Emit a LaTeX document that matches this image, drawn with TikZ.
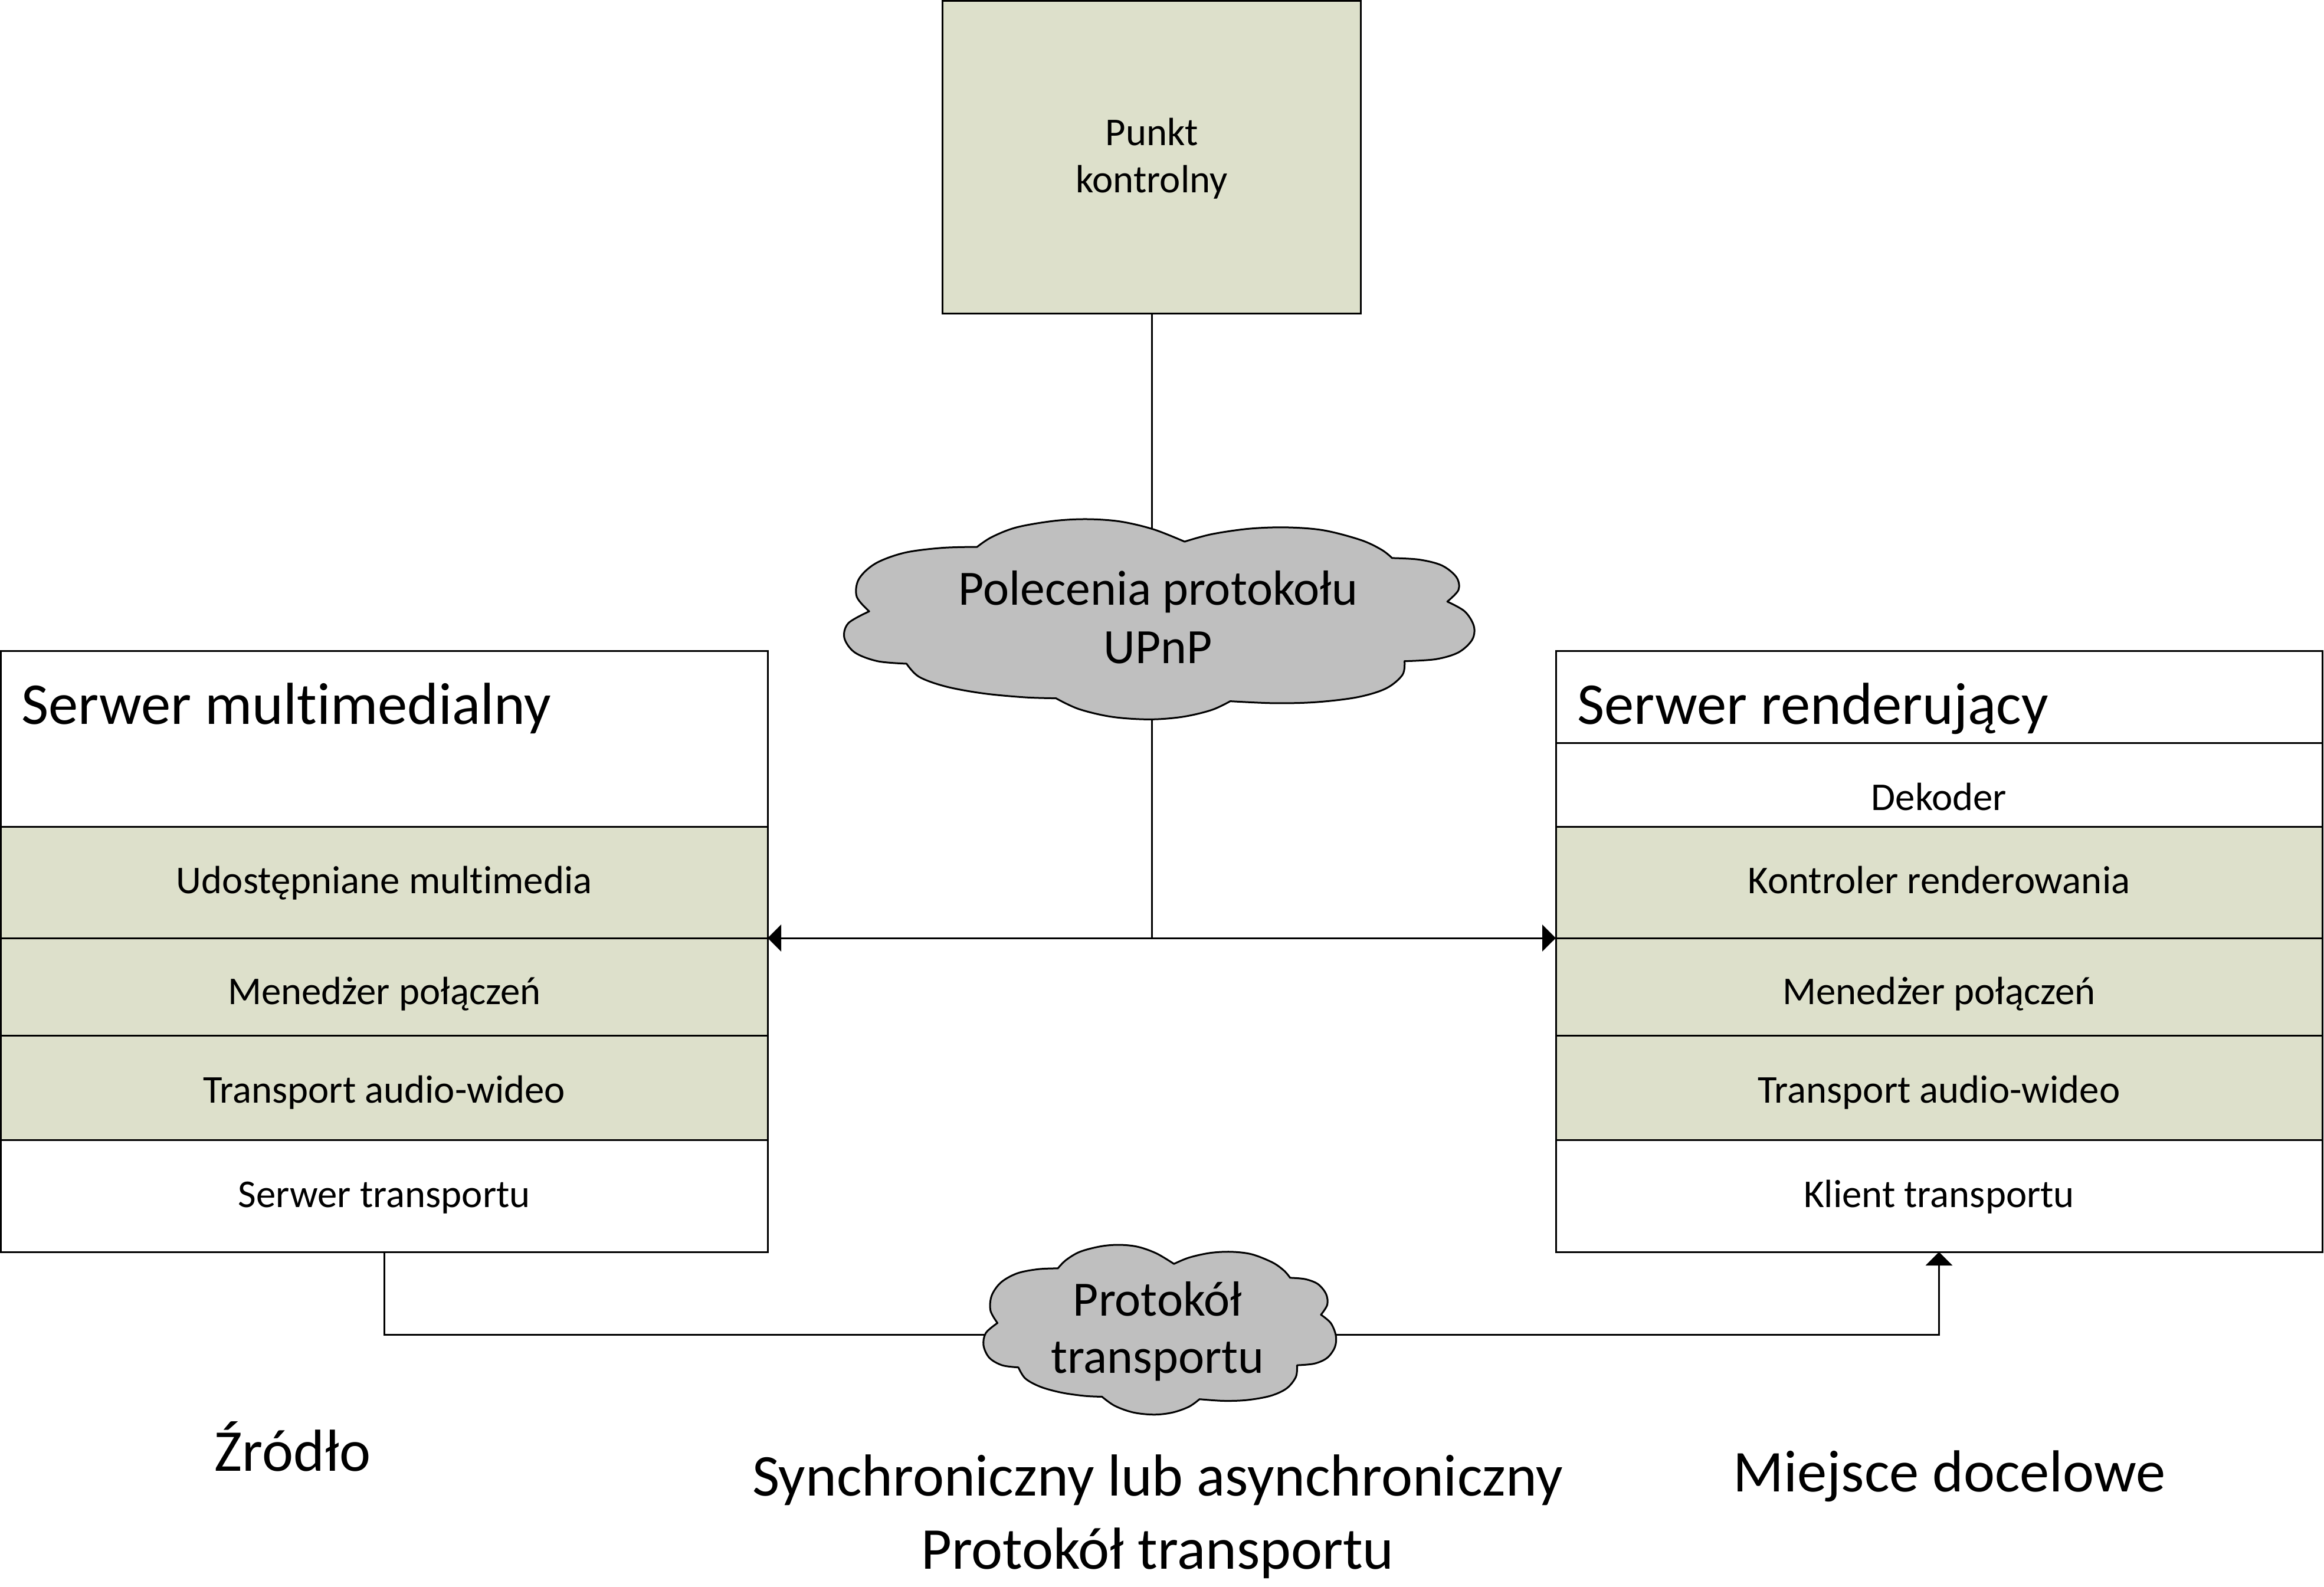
\documentclass[tikz,border=0pt]{standalone}
\usepackage{fontspec}
\setmainfont{Carlito}[Ligatures={NoCommon}]
\usetikzlibrary{arrows.meta,calc}
\definecolor{boxgreen}{HTML}{DDE0CB}
\definecolor{cloudgray}{HTML}{BFBFBF}
\newcommand\drawcloud{%
\filldraw[cloudsty]
 plot[smooth,tension=0.55] coordinates {(335,175) (370,125) (430,75) (520,42) (600,33) (680,45) (760,85) (835,148)}
 -- plot[smooth,tension=0.55] coordinates {(835,148) (900,110) (990,82) (1080,75) (1170,90) (1260,140) (1310,190) (1335,232)}
 -- plot[smooth,tension=0.55] coordinates {(1335,232) (1400,240) (1455,270) (1490,330) (1495,395) (1468,455)}
 -- plot[smooth,tension=0.55] coordinates {(1468,455) (1510,505) (1532,580) (1528,650) (1495,715) (1440,750) (1365,760)}
 -- plot[smooth,tension=0.55] coordinates {(1365,760) (1360,830) (1320,900) (1250,945) (1150,970) (1050,975) (945,965)}
 -- plot[smooth,tension=0.55] coordinates {(945,965) (900,1010) (830,1045) (750,1058) (660,1045) (580,1005) (525,950)}
 -- plot[smooth,tension=0.55] coordinates {(525,950) (450,945) (350,925) (260,890) (195,840) (165,773)}
 -- plot[smooth,tension=0.55] coordinates {(165,773) (95,760) (40,715) (15,640) (25,565) (75,505)}
 -- plot[smooth,tension=0.55] coordinates {(75,505) (45,430) (50,340) (90,260) (160,205) (250,180) (335,175)}
 -- cycle;}
\tikzset{
  rowbox/.style={draw=black, line width=0.03cm, inner sep=0pt, outer sep=0pt, anchor=north west, rectangle},
  cloudsty/.style={draw=black, fill=cloudgray, line width=0.03cm, line join=round},
  conn/.style={draw=black, line width=0.03cm},
  arr/.style={conn, -{Triangle[length=0.23cm, width=0.45cm]}},
  bigtxt/.style={font=\fontsize{28.6pt}{34pt}\selectfont, inner sep=0pt},
  smalltxt/.style={font=\fontsize{19.0pt}{22pt}\selectfont, inner sep=0pt, anchor=base},
  cloudtxt/.style={font=\fontsize{23.8pt}{28pt}\selectfont, inner sep=0pt, anchor=base},
}
\begin{document}
\begin{tikzpicture}
\useasboundingbox (0,0) rectangle (39.39,-26.89);
\fill[white] (0,0) rectangle (39.39,-26.89);

% control point box
\node[rowbox, fill=boxgreen, minimum width=7.09cm, minimum height=5.30cm] (punkt) at (15.975,-0.015) {};
\node[smalltxt] (punkt1) at (19.52,-2.46) {Punkt};
\node[smalltxt] (punkt2) at (19.52,-3.26) {kontrolny};

% left box
\node[rowbox, fill=white, minimum width=12.995cm, minimum height=2.98cm] (LT) at (0.015,-11.03) {};
\node[rowbox, fill=boxgreen, minimum width=12.995cm, minimum height=1.89cm] (L1) at (0.015,-14.01) {};
\node[rowbox, fill=boxgreen, minimum width=12.995cm, minimum height=1.65cm] (L2) at (0.015,-15.90) {};
\node[rowbox, fill=boxgreen, minimum width=12.995cm, minimum height=1.77cm] (L3) at (0.015,-17.55) {};
\node[rowbox, fill=white, minimum width=12.995cm, minimum height=1.90cm] (L4) at (0.015,-19.32) {};

% right box
\node[rowbox, fill=white, minimum width=12.99cm, minimum height=1.56cm] (RT) at (26.37,-11.03) {};
\node[rowbox, fill=white, minimum width=12.99cm, minimum height=1.42cm] (R0) at (26.37,-12.59) {};
\node[rowbox, fill=boxgreen, minimum width=12.99cm, minimum height=1.89cm] (R1) at (26.37,-14.01) {};
\node[rowbox, fill=boxgreen, minimum width=12.99cm, minimum height=1.65cm] (R2) at (26.37,-15.90) {};
\node[rowbox, fill=boxgreen, minimum width=12.99cm, minimum height=1.77cm] (R3) at (26.37,-17.55) {};
\node[rowbox, fill=white, minimum width=12.99cm, minimum height=1.90cm] (R4) at (26.37,-19.32) {};

% texts in boxes
\node[bigtxt, anchor=base west] (tLT) at (0.36,-12.27) {Serwer multimedialny};
\node[smalltxt] (tL1) at (L1.center |- 0,-15.14) {Udostępniane multimedia};
\node[smalltxt] (tL2) at (L2.center |- 0,-17.02) {Menedżer połączeń};
\node[smalltxt] (tL3) at (L3.center |- 0,-18.69) {Transport audio-wideo};
\node[smalltxt] (tL4) at (L4.center |- 0,-20.46) {Serwer transportu};

\node[bigtxt, anchor=base west] (tRT) at (26.73,-12.27) {Serwer renderujący};
\node[smalltxt] (tR0) at (R0.center |- 0,-13.73) {Dekoder};
\node[smalltxt] (tR1) at (R1.center |- 0,-15.14) {Kontroler renderowania};
\node[smalltxt] (tR2) at (R2.center |- 0,-17.02) {Menedżer połączeń};
\node[smalltxt] (tR3) at (R3.center |- 0,-18.69) {Transport audio-wideo};
\node[smalltxt] (tR4) at (R4.center |- 0,-20.46) {Klient transportu};

% connectors
\coordinate (junc) at (punkt.south |- L1.south east);
\draw[conn] (punkt.south) -- (junc);
\draw[arr] (junc) -- (L1.south east);
\draw[arr] (junc) -- (R1.south west);
\coordinate (bend) at (0,-22.62);
\draw[arr] (L4.south) -- (L4.south |- bend) -| (R4.south);

% cloud 1
\begin{scope}[shift={(14.2046,-8.6905)}, x=0.0070270cm, y=-0.0033171cm]
\drawcloud
\end{scope}
\node[cloudtxt] (cloudA1) at (19.63,-10.25) {Polecenia protokołu};
\node[cloudtxt] (cloudA2) at (19.63,-11.24) {UPnP};

% cloud 2
\begin{scope}[shift={(16.6109,-21.0073)}, x=0.0039420cm, y=-0.0028098cm]
\drawcloud
\end{scope}
\node[cloudtxt] (cloudB1) at (19.62,-22.30) {Protokół};
\node[cloudtxt] (cloudB2) at (19.62,-23.27) {transportu};

% bottom labels
\node[bigtxt, anchor=base] (zrodlo) at (4.96,-24.93) {Źródło};
\node[bigtxt, anchor=base] (sync1) at (19.62,-25.35) {Synchroniczny lub asynchroniczny};
\node[bigtxt, anchor=base] (sync2) at (19.62,-26.59) {Protokół transportu};
\node[bigtxt, anchor=base] (cel) at (33.04,-25.28) {Miejsce docelowe};
\end{tikzpicture}
\end{document}
